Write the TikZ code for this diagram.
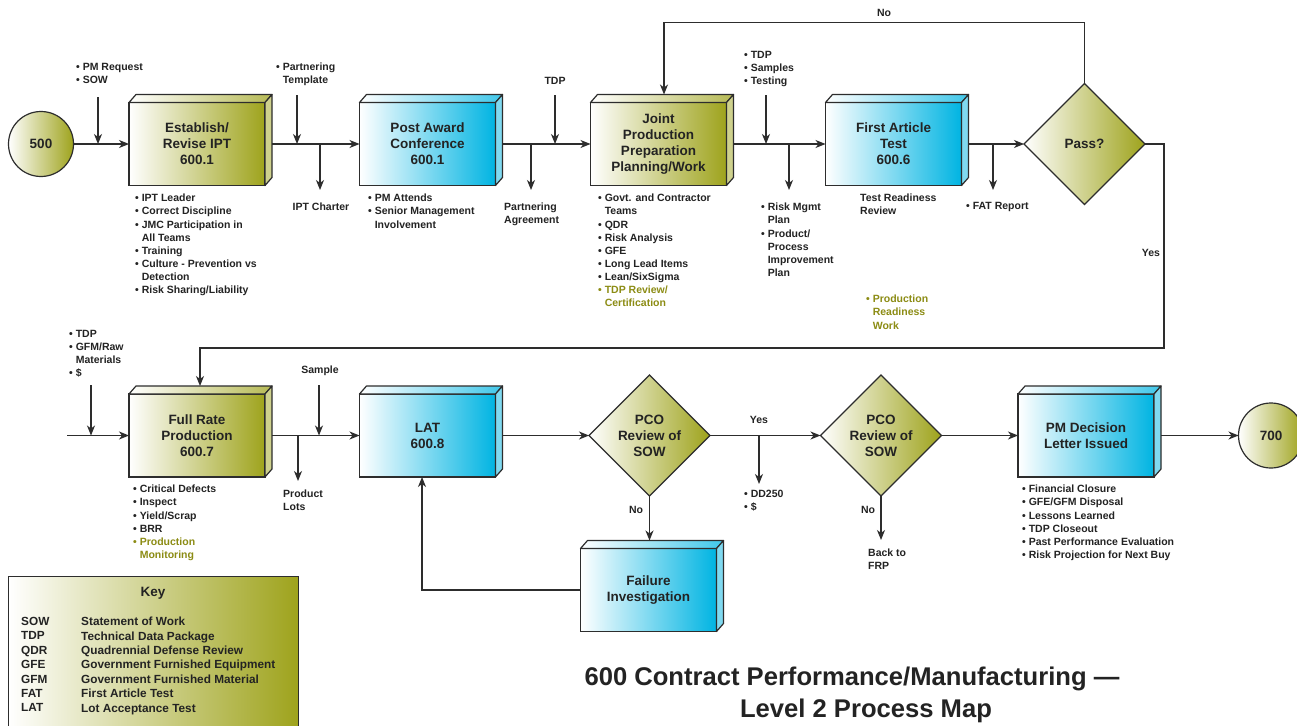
\documentclass[tikz,border=0pt]{standalone}
\usepackage{fontspec}
\setmainfont{Liberation Sans}
\usetikzlibrary{shapes.geometric,arrows.meta,calc}
\definecolor{olv}{RGB}{158,163,28}
\definecolor{cyn}{RGB}{0,180,226}
\definecolor{lnc}{RGB}{45,45,45}
\definecolor{olvtext}{RGB}{140,140,20}
\definecolor{txt}{RGB}{35,35,35}
\tikzset{
 arr/.style={draw=lnc, line width=1.2pt, -{Stealth[length=10pt,width=8pt,inset=3pt]}},
 box/.style={draw=lnc, line width=1.2pt, minimum width=136pt, minimum height=83pt, inner sep=0pt, outer sep=0pt, align=center, font=\fontsize{13.5}{16}\selectfont\bfseries, text=txt},
 obox/.style={box, left color=white, right color=olv},
 cbox/.style={box, left color=white, right color=cyn},
 dia/.style={diamond, draw=lnc, line width=1.2pt, minimum width=121pt, minimum height=121pt, inner sep=0pt, outer sep=0pt, align=center, left color=white, right color=olv, font=\fontsize{13.5}{16}\selectfont\bfseries, text=txt},
 term/.style={circle, draw=lnc, line width=1.2pt, minimum size=65pt, inner sep=0pt, outer sep=0pt, left color=white, right color=olv, font=\fontsize{13.5}{16}\selectfont\bfseries, text=txt},
 lab/.style={align=left, inner sep=0pt, font=\fontsize{10.5}{13.1}\selectfont\bfseries, text=txt, anchor=north west},
 clab/.style={lab, align=center, anchor=north},
 ttl/.style={inner sep=0pt, font=\fontsize{25.6}{30}\selectfont\bfseries, text=txt},
}
\newcommand\boxfaces[2]{%
  \path[draw=lnc,line width=1.2pt,line join=round,left color=white,right color=#2!75]
    (#1.north west) -- ++(7,-8) -- ([shift={(7,-8)}]#1.north east) -- (#1.north east) -- cycle;
  \path[draw=lnc,line width=1.2pt,line join=round,fill=#2!50]
    (#1.north east) -- ([shift={(7,-8)}]#1.north east) -- ([shift={(7,-8)}]#1.south east) -- (#1.south east) -- cycle;
}
\newcommand\bl{\phantom{•\ }}
\begin{document}
\begin{tikzpicture}[x=1pt,y=-1pt]
\useasboundingbox (0,0) rectangle (1297,725);
\fill[white] (0,0) rectangle (1297,725);

% ---------- row 1 ----------
\node[term] (c500) at (41,144) {500};
\node[obox] (b1) at (197,144) {Establish/\\Revise IPT\\600.1};
\node[cbox] (b2) at (427.5,144) {Post Award\\Conference\\600.1};
\node[obox] (b3) at (658.5,144) {Joint\\Production\\Preparation\\Planning/Work};
\node[cbox] (b4) at (893.5,144) {First Article\\Test\\600.6};
\node[dia] (pass) at (1084.5,144) {Pass?};
\boxfaces{b1}{olv}
\boxfaces{b2}{cyn}
\boxfaces{b3}{olv}
\boxfaces{b4}{cyn}

% ---------- row 2 ----------
\node[obox] (b5) at (197,435.5) {Full Rate\\Production\\600.7};
\node[cbox] (b6) at (427.5,435.5) {LAT\\600.8};
\node[dia] (d2) at (649.5,435.5) {PCO\\Review of\\SOW};
\node[dia] (d3) at (881,435.5) {PCO\\Review of\\SOW};
\node[cbox] (fail) at (648.5,590) {Failure\\Investigation};
\node[cbox] (b7) at (1086,435.5) {PM Decision\\Letter Issued};
\node[term] (c700) at (1271,435.5) {700};
\boxfaces{b5}{olv}
\boxfaces{b6}{cyn}
\boxfaces{fail}{cyn}
\boxfaces{b7}{cyn}

% ---------- main flow row 1 ----------
\draw[arr] (c500) -- (b1.west);
\draw[arr] ([xshift=7pt]b1.east) -- (b2.west);
\draw[arr] ([xshift=7pt]b2.east) -- (b3.west);
\draw[arr] ([xshift=7pt]b3.east) -- (b4.west);
\draw[arr] ([xshift=7pt]b4.east) -- (pass.west);
\draw[arr] (pass.north) -- ++(0,-61) -| ([shift={(5.5,-8)}]b3.north);
\draw[arr] (pass.east) -| (1164,348) -| ([shift={(3,-8)}]b5.north);

% inputs / outputs row 1
\coordinate (i1a) at (98,97);   \coordinate (i1b) at (98,144);
\coordinate (i2a) at (297,95);  \coordinate (i2b) at (297,144);
\coordinate (i3a) at (555,95);  \coordinate (i3b) at (555,144);
\coordinate (i4a) at (766,95);  \coordinate (i4b) at (766,144);
\coordinate (o1a) at (320,144); \coordinate (o1b) at (320,190);
\coordinate (o2a) at (531,144); \coordinate (o2b) at (531,190);
\coordinate (o3a) at (789,144); \coordinate (o3b) at (789,190);
\coordinate (o4a) at (993,144); \coordinate (o4b) at (993,190);
\foreach \s/\e in {i1a/i1b,i2a/i2b,i3a/i3b,i4a/i4b,o1a/o1b,o2a/o2b,o3a/o3b,o4a/o4b}
  \draw[arr] (\s) -- (\e);

% labels row 1
\node[lab] (lpm) at (76,63) {• PM Request\\• SOW};
\node[lab] (lpt) at (276,63) {• Partnering\\\bl Template};
\node[clab] (ltdp) at (555,77) {TDP};
\node[clab] (lipt) at (321,203) {IPT Charter};
\node[lab] (lpa) at (504,203) {Partnering\\Agreement};
\node[lab] (l1b) at (135,194) {• IPT Leader\\• Correct Discipline\\• JMC Participation in\\\bl All Teams\\• Training\\• Culture - Prevention vs\\\bl Detection\\• Risk Sharing/Liability};
\node[lab] (l2b) at (368,194) {• PM Attends\\• Senior Management\\\bl Involvement};
\node[lab] (l3b) at (598,194) {• Govt. and Contractor\\\bl Teams\\• QDR\\• Risk Analysis\\• GFE\\• Long Lead Items\\• Lean/SixSigma\\\textcolor{olvtext}{• TDP Review/}\\\textcolor{olvtext}{\bl Certification}};
\node[lab] (ltst) at (744,51) {• TDP\\• Samples\\• Testing};
\node[lab] (lrisk) at (761,203) {• Risk Mgmt\\\bl Plan\\• Product/\\\bl Process\\\bl Improvement\\\bl Plan};
\node[lab] (ltrr) at (860,194) {Test Readiness\\Review};
\node[lab, text=olvtext] (lprw) at (866,295) {• Production\\\bl Readiness\\\bl Work};
\node[lab] (lfat) at (966,202) {• FAT Report};
\node[clab] (lno1) at (884,9) {No};
\node[clab] (lyes1) at (1151,249) {Yes};

% ---------- main flow row 2 ----------
\coordinate (s2) at (67,435.5);
\draw[arr] (s2) -- (b5.west);
\draw[arr] ([xshift=7pt]b5.east) -- (b6.west);
\draw[arr] ([xshift=7pt]b6.east) -- (d2.west);
\draw[arr] (d2.east) -- (d3.west);
\draw[arr] (d3.east) -- (b7.west);
\draw[arr] ([xshift=7pt]b7.east) -- (c700.west);
\draw[arr] (d2.south) -- ([shift={(1,-8)}]fail.north);
\coordinate (d3no) at (881,540);
\draw[arr] (d3.south) -- (d3no);
\draw[arr] (fail.west) -| ([xshift=-5.5pt]b6.south);

\coordinate (i5a) at (91,385);   \coordinate (i5b) at (91,435.5);
\coordinate (i6a) at (319,385);  \coordinate (i6b) at (319,435.5);
\coordinate (o5a) at (298,435.5); \coordinate (o5b) at (298,481);
\coordinate (o6a) at (759,435.5); \coordinate (o6b) at (759,484);
\foreach \s/\e in {i5a/i5b,i6a/i6b,o5a/o5b,o6a/o6b}
  \draw[arr] (\s) -- (\e);

% labels row 2
\node[lab] (l5in) at (69,330) {• TDP\\• GFM/Raw\\\bl Materials\\• \$};
\node[clab] (lsample) at (320,366) {Sample};
\node[lab] (l5b) at (133,485) {• Critical Defects\\• Inspect\\• Yield/Scrap\\• BRR\\\textcolor{olvtext}{• Production}\\\textcolor{olvtext}{\bl Monitoring}};
\node[lab] (lpl) at (283,490) {Product\\Lots};
\node[clab] (lyes2) at (759,416) {Yes};
\node[lab] (ldd) at (744,490) {• DD250\\• \$};
\node[clab] (lno2) at (636,506) {No};
\node[clab] (lno3) at (868,506) {No};
\node[lab] (lback) at (868,549) {Back to\\FRP};
\node[lab] (l7b) at (1022,485) {• Financial Closure\\• GFE/GFM Disposal\\• Lessons Learned\\• TDP Closeout\\• Past Performance Evaluation\\• Risk Projection for Next Buy};

% ---------- key ----------
\node[draw=lnc, line width=1.2pt, rectangle, left color=white, right color=olv, minimum width=290pt, minimum height=160pt, anchor=north west, inner sep=0pt] (key) at (8,576) {};
\node[font=\fontsize{13.5}{16}\selectfont\bfseries, text=txt] (keyt) at (153,593) {Key};
\node[lab, font=\fontsize{11.8}{14.4}\selectfont\bfseries] (keya) at (21,617) {SOW\\TDP\\QDR\\GFE\\GFM\\FAT\\LAT};
\node[lab, font=\fontsize{11.8}{14.4}\selectfont\bfseries] (keyb) at (81,617) {Statement of Work\\Technical Data Package\\Quadrennial Defense Review\\Government Furnished Equipment\\Government Furnished Material\\First Article Test\\Lot Acceptance Test};

% ---------- title ----------
\node[ttl] (title1) at (852,679) {600 Contract Performance/Manufacturing —};
\node[ttl] (title2) at (866,711) {Level 2 Process Map};
\end{tikzpicture}
\end{document}
